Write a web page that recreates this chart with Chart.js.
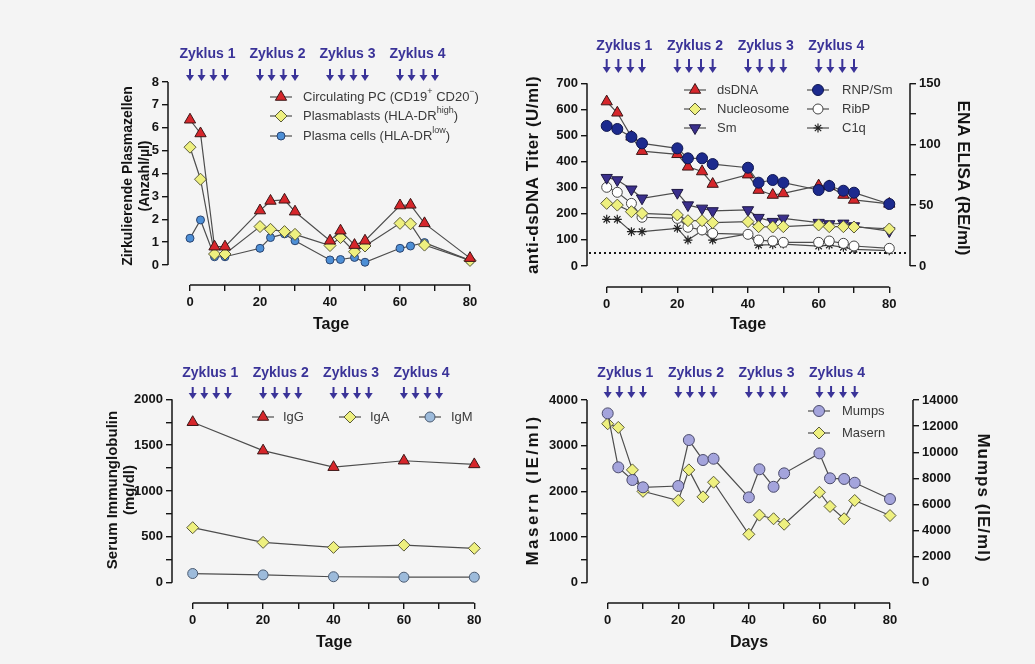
<!DOCTYPE html>
<html lang="de">
<head>
<meta charset="utf-8">
<title>Verlauf unter Therapie</title>
<script src="https://cdn.jsdelivr.net/npm/chart.js@4.4.1/dist/chart.umd.min.js"></script>
<style>
  html, body { margin: 0; padding: 0; background: #f4f4f4; }
  #fig { position: relative; width: 1035px; height: 664px; overflow: hidden; }
  #fig canvas { position: absolute; left: 0; top: 0; }
</style>
</head>
<body>
<div id="fig">
  <canvas id="pc" width="1035" height="664"></canvas>
  <canvas id="ab" width="1035" height="664"></canvas>
  <canvas id="ig" width="1035" height="664"></canvas>
  <canvas id="vac" width="1035" height="664"></canvas>
</div>
<script>
// ---------- sampling days ----------
const daysPC = [0, 3, 7, 10, 20, 23, 27, 30, 40, 43, 47, 50, 60, 63, 67, 80];
const daysSerum = [0, 3, 7, 10, 20, 23, 27, 30, 40, 43, 47, 50, 60, 63, 67, 70, 80];
const daysIg = [0, 20, 40, 60, 80];

// ---------- circulating plasma cells (Anzahl/µl) ----------
const circulatingPC = [6.35, 5.75, 0.8, 0.8, 2.38, 2.8, 2.85, 2.33, 1.06, 1.5, 0.87, 1.06, 2.6, 2.63, 1.82, 0.3];
const plasmablasts  = [5.15, 3.75, 0.48, 0.48, 1.68, 1.56, 1.46, 1.34, 0.85, 1.2, 0.58, 0.83, 1.82, 1.8, 0.87, 0.2];
const plasmaCells   = [1.17, 1.97, 0.36, 0.36, 0.73, 1.2, 1.36, 1.06, 0.22, 0.24, 0.33, 0.12, 0.73, 0.83, 0.98, 0.2];

// ---------- autoantibodies: anti-dsDNA (U/ml) and ENA ELISA (RE/ml) ----------
const dsDNA      = [630, 587, 495, 440, 428, 380, 362, 314, 350, 291, 272, 278, 308, 305, 272, 253, 238];
const rnpSm      = [115, 112.5, 106, 100.7, 96.6, 88.4, 88.4, 83.7, 80.7, 68.4, 70.6, 68.4, 62.4, 65.7, 61.8, 60.2, 50.9];
const nucleosome = [51.4, 50, 44.6, 43.2, 41.9, 37.2, 37.2, 35.6, 36.4, 32.3, 32, 32.3, 33.7, 32.3, 32.3, 32, 30.4];
const sm         = [72.5, 70.6, 63, 55.6, 60.2, 50, 47.3, 45.2, 46, 39.7, 36.4, 39.1, 35.6, 34.5, 35, 32.8, 28.7];
const ribP       = [64.6, 60.5, 51.4, 40, 39.1, 31.8, 29.6, 26.8, 26, 21.3, 20.5, 19.4, 19.4, 20.5, 18.6, 16.4, 14.5];
const c1q        = [38.3, 38.3, 28.2, 28.2, 30.9, 21.3, 29, 21.3, 26.3, 17.2, 17.5, 18, 16.4, 17.2, 15.3, 13.7, 12.6];
const dsDNACutoff = 50;

// ---------- serum immunoglobulins (mg/dl) ----------
const igG = [1750, 1440, 1260, 1330, 1290];
const igA = [600, 440, 385, 410, 375];
const igM = [100, 85, 65, 60, 60];

// ---------- vaccine titres (IE/ml) ----------
const masern = [3480, 3400, 2470, 2000, 1800, 2470, 1880, 2200, 1060, 1480, 1400, 1280, 1980, 1670, 1400, 1800, 1470];
const mumps  = [12975, 8840, 7870, 7310, 7410, 10930, 9400, 9500, 6540, 8690, 7350, 8380, 9910, 8000, 7950, 7660, 6410];

// ---------- treatment cycles ----------
const cycleNames = ['Zyklus 1', 'Zyklus 2', 'Zyklus 3', 'Zyklus 4'];
const cycleStartDays = [0, 20, 40, 60];
const doseOffsets = [0, 3.3, 6.7, 10];

// ---------- axis ticks ----------
const dayTicks = [0, 10, 20, 30, 40, 50, 60, 70, 80];
const dayLabels = [0, 20, 40, 60, 80];
const pcTicks = [0, 1, 2, 3, 4, 5, 6, 7, 8];
const dsdnaTicks = [0, 100, 200, 300, 400, 500, 600, 700];
const enaTicks = [0, 25, 50, 75, 100, 125, 150];
const enaLabels = [0, 50, 100, 150];
const igTicks = [0, 250, 500, 750, 1000, 1250, 1500, 1750, 2000];
const igLabels = [0, 500, 1000, 1500, 2000];
const masernTicks = [0, 500, 1000, 1500, 2000, 2500, 3000, 3500, 4000];
const masernLabels = [0, 1000, 2000, 3000, 4000];
const mumpsTicks = [0, 2000, 4000, 6000, 8000, 10000, 12000, 14000];

// ---------- drawing setup ----------
const FONT = "'Liberation Sans', Arial, Helvetica, sans-serif";
const INK = '#141414';
const LINK = '#4d4d4d';
const CYCLE = '#3a3398';
const W = 1035, H = 664;
const Y_BOX = 60, X_BOX = 34;

Chart.defaults.font.family = FONT;

// value range of an axis whose two reference values sit at given pixels,
// stretched out to the pixel edges a..b of the plot area
function span(v0, p0, v1, p1, a, b) {
  const k = (v1 - v0) / (p1 - p0);
  return { min: v0 + (a - p0) * k, max: v0 + (b - p0) * k };
}

function axis(position, range, ticks, labels) {
  const horizontal = position === 'bottom';
  return {
    type: 'linear', position, min: range.min, max: range.max,
    afterBuildTicks: s => { s.ticks = ticks.map(v => ({ value: v })); },
    afterFit: s => { if (horizontal) s.height = X_BOX; else s.width = Y_BOX; },
    ticks: {
      autoSkip: false, maxRotation: 0, minRotation: 0, padding: horizontal ? 4 : 3,
      color: INK, font: { family: FONT, size: 13, weight: 'bold' },
      callback: v => (labels.includes(v) ? String(v) : '')
    },
    grid: { drawOnChartArea: false, drawTicks: true, tickLength: 6, tickWidth: 1.4, color: INK, lineWidth: 1.4 },
    border: { display: false }
  };
}

function series(label, xs, ys, st, axisId) {
  return {
    label, yAxisID: axisId || 'y',
    data: xs.map((d, i) => ({ x: d, y: ys[i] })),
    borderColor: LINK, borderWidth: 1.2, tension: 0, clip: false,
    pointStyle: st.shape, pointRadius: st.r, pointRotation: st.rot || 0,
    pointBackgroundColor: st.fill, pointBorderColor: st.edge || '#333', pointBorderWidth: st.bw || 1
  };
}

function marker(ctx, ds, x, y) {
  ctx.fillStyle = ds.pointBackgroundColor;
  ctx.strokeStyle = ds.pointBorderColor;
  ctx.lineWidth = ds.pointBorderWidth;
  Chart.helpers.drawPoint(ctx, {
    pointStyle: ds.pointStyle, radius: ds.pointRadius,
    rotation: ds.pointRotation, borderWidth: ds.pointBorderWidth
  }, x, y);
}

function drawArrow(ctx, x, y0, y1) {
  ctx.beginPath();
  ctx.moveTo(x, y0);
  ctx.lineTo(x, y1 - 5);
  ctx.stroke();
  ctx.beginPath();
  ctx.moveTo(x - 4, y1 - 6);
  ctx.lineTo(x + 4, y1 - 6);
  ctx.lineTo(x, y1);
  ctx.closePath();
  ctx.fill();
}

// axis lines, cut-off line, cycle markers, titles and legend of one panel
function decorations(d) {
  return {
    id: 'decor',
    beforeDatasetsDraw(chart) {
      const ctx = chart.ctx, ca = chart.chartArea;
      ctx.save();
      ctx.strokeStyle = INK;
      ctx.lineWidth = 1.5;
      d.axes.forEach(a => {
        const s = chart.scales[a.id];
        ctx.beginPath();
        if (s.isHorizontal()) {
          ctx.moveTo(s.getPixelForValue(a.from), ca.bottom);
          ctx.lineTo(s.getPixelForValue(a.to), ca.bottom);
        } else {
          const x = s.position === 'right' ? ca.right : ca.left;
          ctx.moveTo(x, s.getPixelForValue(a.from));
          ctx.lineTo(x, s.getPixelForValue(a.to));
        }
        ctx.stroke();
      });
      if (d.refLine) {
        const y = chart.scales[d.refLine.id].getPixelForValue(d.refLine.value);
        ctx.setLineDash([2, 3]);
        ctx.lineWidth = 2;
        ctx.beginPath();
        ctx.moveTo(ca.left + 2, y);
        ctx.lineTo(ca.right - 4, y);
        ctx.stroke();
      }
      ctx.restore();
    },
    afterDraw(chart) {
      const ctx = chart.ctx, xs = chart.scales.x;
      ctx.save();
      // treatment cycles
      ctx.fillStyle = CYCLE;
      ctx.strokeStyle = CYCLE;
      ctx.lineWidth = 2;
      ctx.font = `bold 14px ${FONT}`;
      ctx.textAlign = 'center';
      ctx.textBaseline = 'middle';
      cycleNames.forEach((name, i) => {
        const start = cycleStartDays[i];
        ctx.fillText(name, xs.getPixelForValue(start + 5), d.cycles.textY);
        doseOffsets.forEach(o => drawArrow(ctx, xs.getPixelForValue(start + o), d.cycles.top, d.cycles.bottom));
      });
      // axis titles
      d.titles.forEach(t => {
        ctx.save();
        ctx.translate(t.x, t.y);
        ctx.rotate(t.rot || 0);
        ctx.font = `bold ${t.size}px ${FONT}`;
        if ('letterSpacing' in ctx) ctx.letterSpacing = (t.sp || 0) + 'px';
        ctx.fillStyle = INK;
        ctx.textAlign = 'center';
        ctx.textBaseline = 'middle';
        ctx.fillText(t.text, 0, 0);
        ctx.restore();
      });
      // legend
      d.legend.forEach(e => {
        const ds = chart.data.datasets[e.ds];
        ctx.strokeStyle = ds.borderColor;
        ctx.lineWidth = ds.borderWidth;
        ctx.beginPath();
        ctx.moveTo(e.x - 11, e.y);
        ctx.lineTo(e.x + 11, e.y);
        ctx.stroke();
        marker(ctx, ds, e.x, e.y);
        let tx = e.tx;
        ctx.fillStyle = '#3a3a3a';
        ctx.textAlign = 'left';
        ctx.textBaseline = 'middle';
        e.parts.forEach(p => {
          ctx.font = p.sup ? `9px ${FONT}` : `13px ${FONT}`;
          ctx.fillText(p.t, tx, p.sup ? e.y - 5 : e.y);
          tx += ctx.measureText(p.t).width;
        });
      });
      ctx.restore();
    }
  };
}

function panel(id, frame, scales, datasets, decor) {
  const padding = {
    left: frame.left - Y_BOX,
    right: W - frame.right - (frame.rightAxis ? Y_BOX : 0),
    top: frame.top,
    bottom: H - frame.bottom - X_BOX
  };
  return new Chart(document.getElementById(id), {
    type: 'line',
    data: { datasets },
    options: {
      responsive: false, animation: false, events: [],
      layout: { padding },
      plugins: { legend: { display: false }, tooltip: { enabled: false } },
      scales
    },
    plugins: [decorations(decor)]
  });
}

const RED = { shape: 'triangle', r: 6.5, fill: '#d6262b', edge: '#3a1616' };
const YEL = { shape: 'rectRot', r: 6, fill: '#eef07f', edge: '#5a5a3a' };

// ---------- top left: circulating plasma cells ----------
{
  const f = { left: 168, right: 482, top: 82, bottom: 285 };
  panel('pc', f, {
    x: axis('bottom', span(0, 190, 80, 470, f.left, f.right), dayTicks, dayLabels),
    y: axis('left', span(0, 265, 8, 82, f.bottom, f.top), pcTicks, pcTicks)
  }, [
    series('Circulating PC', daysPC, circulatingPC, RED),
    series('Plasmablasts', daysPC, plasmablasts, YEL),
    series('Plasma cells', daysPC, plasmaCells, { shape: 'circle', r: 4, fill: '#4d8fd6', edge: '#2a4470' })
  ], {
    axes: [{ id: 'x', from: 0, to: 80 }, { id: 'y', from: 0, to: 8 }],
    cycles: { textY: 54, top: 69, bottom: 81 },
    titles: [
      { text: 'Zirkulierende Plasmazellen', x: 128, y: 176, rot: -Math.PI / 2, size: 14 },
      { text: '(Anzahl/µl)', x: 145, y: 176, rot: -Math.PI / 2, size: 14 },
      { text: 'Tage', x: 331, y: 325, size: 16 }
    ],
    legend: [
      { ds: 0, x: 281, y: 97, tx: 303, parts: [{ t: 'Circulating PC (CD19' }, { t: '+', sup: true }, { t: ' CD20' }, { t: '−', sup: true }, { t: ')' }] },
      { ds: 1, x: 281, y: 116, tx: 303, parts: [{ t: 'Plasmablasts (HLA-DR' }, { t: 'high', sup: true }, { t: ')' }] },
      { ds: 2, x: 281, y: 136, tx: 303, parts: [{ t: 'Plasma cells (HLA-DR' }, { t: 'low', sup: true }, { t: ')' }] }
    ]
  });
}

// ---------- top right: autoantibodies ----------
{
  const f = { left: 587, right: 910, top: 83, bottom: 287, rightAxis: true };
  panel('ab', f, {
    x: axis('bottom', span(0, 606.7, 80, 889.3, f.left, f.right), dayTicks, dayLabels),
    y: axis('left', span(0, 266, 700, 83.3, f.bottom, f.top), dsdnaTicks, dsdnaTicks),
    y1: axis('right', span(0, 266, 150, 83.3, f.bottom, f.top), enaTicks, enaLabels)
  }, [
    series('RNP/Sm', daysSerum, rnpSm, { shape: 'circle', r: 5.5, fill: '#1c2a8e', edge: '#0f1650' }, 'y1'),
    series('dsDNA', daysSerum, dsDNA, RED, 'y'),
    series('Nucleosome', daysSerum, nucleosome, YEL, 'y1'),
    series('Sm', daysSerum, sm, { shape: 'triangle', r: 6.5, rot: 180, fill: '#3a2f8c', edge: '#1c1640' }, 'y1'),
    series('RibP', daysSerum, ribP, { shape: 'circle', r: 5, fill: '#ffffff', edge: '#444444' }, 'y1'),
    series('C1q', daysSerum, c1q, { shape: 'star', r: 4.5, fill: '#222222', edge: '#222222', bw: 1.2 }, 'y1')
  ], {
    axes: [{ id: 'x', from: 0, to: 80 }, { id: 'y', from: 0, to: 700 }, { id: 'y1', from: 0, to: 150 }],
    refLine: { id: 'y', value: dsDNACutoff },
    cycles: { textY: 46, top: 59, bottom: 73 },
    titles: [
      { text: 'anti-dsDNA Titer (U/ml)', x: 533, y: 175, rot: -Math.PI / 2, size: 17, sp: 0.5 },
      { text: 'ENA ELISA (RE/ml)', x: 963, y: 178, rot: Math.PI / 2, size: 17 },
      { text: 'Tage', x: 748, y: 325, size: 16 }
    ],
    legend: [
      { ds: 1, x: 695, y: 90, tx: 717, parts: [{ t: 'dsDNA' }] },
      { ds: 2, x: 695, y: 109, tx: 717, parts: [{ t: 'Nucleosome' }] },
      { ds: 3, x: 695, y: 128, tx: 717, parts: [{ t: 'Sm' }] },
      { ds: 0, x: 818, y: 90, tx: 842, parts: [{ t: 'RNP/Sm' }] },
      { ds: 4, x: 818, y: 109, tx: 842, parts: [{ t: 'RibP' }] },
      { ds: 5, x: 818, y: 128, tx: 842, parts: [{ t: 'C1q' }] }
    ]
  });
}

// ---------- bottom left: serum immunoglobulins ----------
{
  const f = { left: 172, right: 485, top: 399, bottom: 603 };
  panel('ig', f, {
    x: axis('bottom', span(0, 192.7, 80, 474.3, f.left, f.right), dayTicks, dayLabels),
    y: axis('left', span(0, 582.7, 2000, 399.3, f.bottom, f.top), igTicks, igLabels)
  }, [
    series('IgG', daysIg, igG, RED),
    series('IgA', daysIg, igA, YEL),
    series('IgM', daysIg, igM, { shape: 'circle', r: 5, fill: '#9dbbdb', edge: '#4a5a70' })
  ], {
    axes: [{ id: 'x', from: 0, to: 80 }, { id: 'y', from: 0, to: 2000 }],
    cycles: { textY: 373, top: 387, bottom: 399 },
    titles: [
      { text: 'Serum Immunglobulin', x: 113, y: 490, rot: -Math.PI / 2, size: 15 },
      { text: '(mg/dl)', x: 130, y: 490, rot: -Math.PI / 2, size: 15 },
      { text: 'Tage', x: 334, y: 643, size: 16 }
    ],
    legend: [
      { ds: 0, x: 263, y: 417, tx: 283, parts: [{ t: 'IgG' }] },
      { ds: 1, x: 350, y: 417, tx: 370, parts: [{ t: 'IgA' }] },
      { ds: 2, x: 430, y: 417, tx: 451, parts: [{ t: 'IgM' }] }
    ]
  });
}

// ---------- bottom right: vaccine titres ----------
{
  const f = { left: 587, right: 913, top: 400, bottom: 603, rightAxis: true };
  panel('vac', f, {
    x: axis('bottom', span(0, 607.7, 80, 890, f.left, f.right), dayTicks, dayLabels),
    y: axis('left', span(0, 582.7, 4000, 400, f.bottom, f.top), masernTicks, masernLabels),
    y1: axis('right', span(0, 582.7, 14000, 400, f.bottom, f.top), mumpsTicks, mumpsTicks)
  }, [
    series('Mumps', daysSerum, mumps, { shape: 'circle', r: 5.5, fill: '#a4a4dc', edge: '#4a4a6a' }, 'y1'),
    series('Masern', daysSerum, masern, YEL, 'y')
  ], {
    axes: [{ id: 'x', from: 0, to: 80 }, { id: 'y', from: 0, to: 4000 }, { id: 'y1', from: 0, to: 14000 }],
    cycles: { textY: 373, top: 386, bottom: 398 },
    titles: [
      { text: 'Masern (IE/ml)', x: 533, y: 490, rot: -Math.PI / 2, size: 17, sp: 2.5 },
      { text: 'Mumps (IE/ml)', x: 983, y: 498, rot: Math.PI / 2, size: 17, sp: 1 },
      { text: 'Days', x: 749, y: 643, size: 16 }
    ],
    legend: [
      { ds: 0, x: 819, y: 411, tx: 842, parts: [{ t: 'Mumps' }] },
      { ds: 1, x: 819, y: 433, tx: 842, parts: [{ t: 'Masern' }] }
    ]
  });
}
</script>
</body>
</html>
